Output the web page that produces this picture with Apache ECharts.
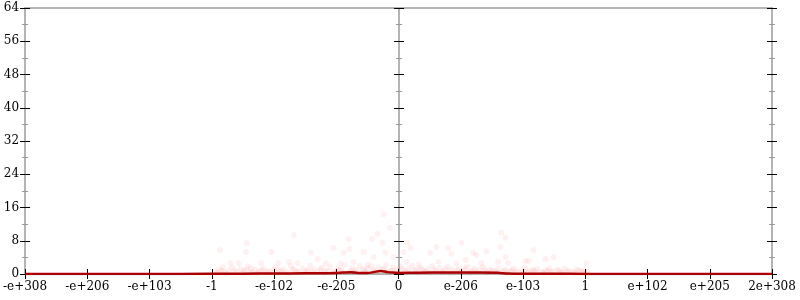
<!DOCTYPE html>
<html>
<head>
<meta charset="utf-8">
<script src="https://cdn.jsdelivr.net/npm/echarts@6/dist/echarts.min.js"></script>
<style>html,body{margin:0;padding:0;background:#fff}#c{width:800px;height:300px}</style>
</head>
<body>
<div id="c"></div>
<script>
var xLabels = ['-e+308','-e+206','-e+103','-1','-e-102','-e-205','0','e-206','e-103','1','e+102','e+205','2e+308'];
var yMin = 0, yMax = 64, yStep = 8;

var scatterPoints = [
[3.13,5.8],[3.56,7.5],[3.55,5.3],[3.96,5.3],[4.32,9.4],[5.76,14.4],[5.86,11.1],[5.66,9.6],[5.58,8.4],[5.74,7.5],
[5.20,8.4],[4.96,6.3],[5.21,6.0],[5.44,5.3],[5.12,5.1],[4.59,5.1],[4.70,3.6],[4.83,2.6],[4.38,2.6],[4.24,2.9],
[4.07,2.6],[3.79,2.6],[3.30,2.6],[3.43,2.6],[3.18,1.7],[5.60,4.1],[5.79,5.1],[5.92,4.1],[5.07,2.6],[5.28,2.9],
[5.50,2.2],[3.63,1.4],
[7.65,9.9],[7.72,8.7],[7.01,7.5],[6.61,6.5],[6.19,6.3],[6.08,5.3],[6.80,6.3],[6.85,4.8],[7.41,5.5],[6.51,5.1],
[8.17,5.8],[7.20,5.1],[7.25,4.6],[7.72,4.1],[8.36,3.6],[8.49,4.1],[9.02,2.6],[6.13,2.9],[6.64,2.9],[7.08,3.4],
[7.60,2.9],[7.76,2.6],[8.04,3.1],[8.09,3.1],[6.32,2.2],[7.33,2.6],[6.93,2.6],[6.14,7.5],[7.64,6.5],
[3.05,0.6],[3.12,1.1],[3.2,0.4],[3.27,0.9],[3.33,1.5],[3.4,0.5],[3.46,1.2],[3.52,0.7],[3.58,1.8],[3.65,0.3],
[3.7,1.0],[3.76,0.6],[3.83,1.4],[3.9,0.8],[3.95,0.4],[4.02,1.6],[4.08,0.7],[4.15,1.1],[4.2,0.5],[4.27,1.9],
[4.33,0.9],[4.4,0.4],[4.46,1.3],[4.52,0.7],[4.58,2.0],[4.64,1.0],[4.7,0.5],[4.77,1.5],[4.83,0.8],[4.9,1.8],
[4.96,0.6],[5.02,1.2],[5.08,0.9],[5.14,2.1],[5.2,0.5],[5.26,1.4],[5.32,1.0],[5.38,1.9],[5.45,0.7],[5.5,1.3],
[5.56,2.0],[5.62,0.8],[5.68,1.6],[5.74,1.1],[5.8,2.2],[5.86,0.6],[5.92,1.5],[5.97,1.0],[6.03,1.8],[6.1,0.7],
[6.16,1.3],[6.22,2.0],[6.28,0.9],[6.35,1.5],[6.41,0.5],[6.47,1.1],[6.54,1.9],[6.6,0.8],[6.66,1.4],[6.72,0.6],
[6.79,1.7],[6.85,1.0],[6.9,0.5],[6.97,1.3],[7.04,0.8],[7.1,1.8],[7.16,0.6],[7.22,1.2],[7.29,0.9],[7.35,1.6],
[7.41,0.5],[7.47,1.1],[7.54,0.7],[7.6,1.4],[7.66,0.4],[7.72,1.0],[7.79,0.6],[7.85,1.3],[7.91,0.5],[7.98,0.9],
[8.04,1.5],[8.1,0.4],[8.17,0.8],[8.23,1.2],[8.3,0.5],[8.36,0.9],[8.42,1.4],[8.48,0.6],[8.55,1.0],[8.61,0.4],
[8.67,1.3],[8.74,0.7],[8.8,0.5],[8.86,1.1],[8.93,0.6],[8.99,0.9],
[3.09,0.3],[3.16,0.8],[3.24,0.2],[3.36,0.7],[3.49,0.3],[3.55,1.0],[3.62,0.5],[3.73,0.2],[3.8,0.9],[3.87,0.4],
[3.99,1.0],[4.05,0.3],[4.12,0.6],[4.24,0.2],[4.3,1.2],[4.37,0.6],[4.49,0.3],[4.55,0.9],[4.61,0.4],[4.74,1.1],
[4.8,0.3],[4.87,0.6],[4.99,0.4],[5.05,1.0],[5.11,0.3],[5.23,0.8],[5.29,0.4],[5.42,1.1],[5.48,0.4],[5.59,0.9],
[5.65,0.3],[5.77,1.2],[5.83,0.5],[5.89,0.9],[6.0,0.4],[6.06,1.2],[6.13,0.5],[6.25,0.9],[6.31,0.3],[6.38,1.1],
[6.44,0.6],[6.5,0.3],[6.57,1.0],[6.69,0.4],[6.75,1.1],[6.82,0.3],[6.94,0.9],[7.0,0.5],[7.07,1.2],[7.13,0.3],
[7.19,0.8],[7.26,0.4],[7.38,1.0],[7.44,0.3],[7.5,0.8],[7.57,0.4],[7.69,0.7],[7.75,0.3],[7.82,0.9],[7.88,0.4],
[8.01,0.6],[8.07,0.3],[8.14,1.0],[8.2,0.5],[8.33,0.3],[8.39,0.7],[8.45,0.4],[8.58,0.8],[8.64,0.3],[8.71,0.6],
[8.83,0.3],[8.9,0.8],[8.96,0.4],[9.03,0.5]
];

var lineX = [0,1,2,3,3.5,4,4.5,4.8,5.0,5.1,5.23,5.35,5.5,5.6,5.71,5.82,5.95,6.0,6.3,6.8,7.3,7.6,7.75,8,8.5,9,10,11,12];
var lineY = [0,0,0,0.05,0.08,0.12,0.18,0.2,0.25,0.35,0.45,0.25,0.25,0.45,0.75,0.45,0.3,0.25,0.3,0.35,0.35,0.3,0.1,0.05,0.05,0.02,0,0,0];

var FONT = 'DejaVu Serif';
var GRAY = '#b4b4b4';

function yAx(position, offset, inside, showLabel) {
  return {
    type: 'value', position: position, offset: offset,
    min: yMin, max: yMax, interval: yStep,
    axisLine: {show: true, onZero: false, lineStyle: {color: GRAY, width: 2}},
    axisTick: {show: true, inside: inside, length: 5, lineStyle: {color: '#000', width: 1}},
    minorTick: {show: true, splitNumber: 2, length: 3, lineStyle: {color: '#999', width: 1}},
    axisLabel: {show: showLabel, margin: 6, color: '#000', fontFamily: FONT, fontSize: 12},
    splitLine: {show: false}
  };
}
function xAx(position, inside, showLabel, showTick) {
  return {
    type: 'value', position: position, min: 0, max: 12, interval: 1,
    axisLine: {show: true, onZero: false, lineStyle: {color: GRAY, width: 2}},
    axisTick: {show: showTick, inside: inside, length: 5, lineStyle: {color: '#000', width: 1}},
    axisLabel: {show: showLabel, margin: 7, color: '#000', fontFamily: FONT, fontSize: 12,
      formatter: function (v) { return xLabels[Math.round(v)]; }},
    splitLine: {show: false}
  };
}

var chart = echarts.init(document.getElementById('c'), null, {renderer: 'canvas'});
chart.setOption({
  animation: false,
  backgroundColor: '#fff',
  grid: {left: 24, right: 28, top: 8, bottom: 26, containLabel: false},
  xAxis: [xAx('bottom', false, true, true), xAx('bottom', true, false, true), xAx('top', false, false, false)],
  yAxis: [
    yAx('left', 0, false, true), yAx('left', 0, true, false),
    yAx('left', -374, false, false), yAx('left', -374, true, false),
    yAx('right', 0, false, false), yAx('right', 0, true, false)
  ],
  series: [
    {
      type: 'scatter', xAxisIndex: 0, yAxisIndex: 0, silent: true,
      symbol: 'circle', symbolSize: 6,
      itemStyle: {color: 'rgba(255,0,0,0.07)'},
      data: scatterPoints
    },
    {
      type: 'line', xAxisIndex: 0, yAxisIndex: 0, silent: true,
      showSymbol: false, smooth: 0.3,
      lineStyle: {color: '#aa0000', width: 2.5},
      data: lineX.map(function (x, i) { return [x, lineY[i]]; }),
      z: 5
    }
  ]
});
</script>
</body>
</html>
